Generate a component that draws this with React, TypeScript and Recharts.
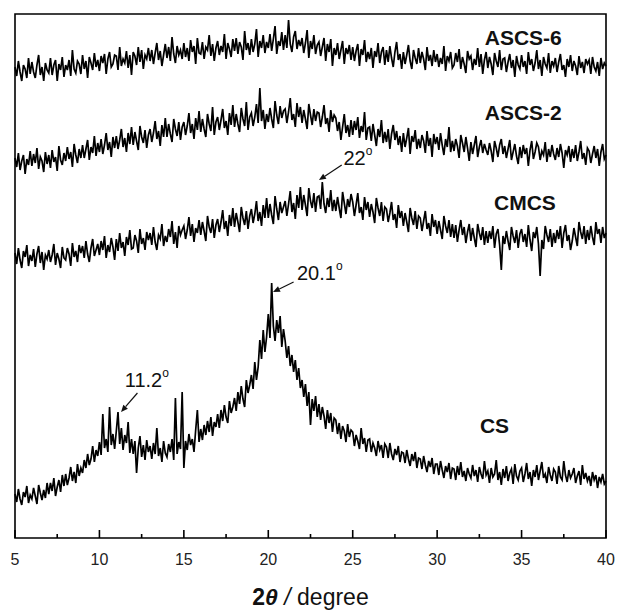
import React from 'react';
import { LineChart, Line, XAxis, YAxis, ReferenceArea, ReferenceDot, ReferenceLine } from 'recharts';

// 2θ positions, 0.1° apart, 5 → 40
const twoTheta: number[] = Array.from({ length: 351 }, (_, i) => +(5 + i * 0.1).toFixed(1));

// intensities (arbitrary units, curves already offset as in the figure), one row per degree
const ascs6 = [
  471, 462, 477, 466, 457, 473, 469, 460, 480, 464,
  476, 466, 460, 473, 483, 463, 471, 457, 475, 468,
  465, 480, 463, 473, 478, 457, 474, 468, 481, 461,
  473, 468, 478, 462, 488, 469, 465, 477, 474, 464,
  483, 469, 477, 460, 481, 475, 468, 485, 471, 478,
  467, 482, 475, 484, 464, 479, 486, 471, 474, 483,
  482, 468, 491, 472, 479, 475, 487, 470, 483, 463,
  486, 482, 473, 491, 476, 488, 469, 483, 479, 490,
  477, 488, 474, 485, 495, 478, 487, 472, 483, 494,
  480, 491, 477, 501, 484, 475, 492, 483, 488, 479,
  495, 481, 490, 477, 498, 486, 492, 474, 500, 485,
  484, 496, 479, 491, 488, 503, 482, 494, 477, 490,
  497, 483, 492, 486, 504, 479, 495, 489, 481, 499,
  487, 500, 484, 496, 491, 478, 507, 488, 495, 483,
  499, 486, 494, 509, 481, 497, 490, 503, 485, 496,
  490, 504, 487, 499, 512, 484, 497, 492, 506, 488,
  503, 490, 518, 494, 486, 501, 507, 489, 498, 492,
  500, 485, 495, 508, 480, 497, 489, 503, 484, 493,
  496, 482, 491, 500, 477, 494, 486, 499, 472, 490,
  483, 495, 479, 488, 497, 474, 490, 484, 493, 478,
  491, 477, 487, 494, 472, 489, 483, 498, 476, 486,
  479, 490, 470, 487, 481, 495, 475, 486, 491, 473,
  488, 476, 492, 480, 471, 486, 496, 478, 484, 469,
  486, 474, 483, 493, 477, 469, 488, 480, 474, 490,
  475, 486, 479, 468, 491, 477, 483, 472, 488, 476,
  484, 471, 480, 474, 492, 467, 482, 477, 486, 470,
  473, 485, 476, 489, 469, 481, 474, 465, 487, 479,
  482, 468, 479, 473, 490, 471, 484, 464, 478, 486,
  470, 481, 474, 463, 485, 477, 471, 488, 468, 479,
  480, 466, 476, 484, 470, 478, 461, 482, 473, 469,
  483, 471, 477, 464, 486, 473, 479, 467, 475, 488,
  469, 478, 462, 481, 474, 470, 485, 465, 477, 472,
  480, 466, 476, 484, 468, 473, 461, 479, 471, 483,
  467, 477, 472, 463, 482, 470, 476, 465, 479, 474,
  478, 464, 481, 471, 467, 476, 462, 480, 469, 475,
  472,
];

const ascs2 = [
  380, 371, 385, 368, 377, 383, 364, 379, 373, 387,
  372, 384, 375, 390, 369, 381, 377, 366, 386, 374,
  383, 370, 388, 376, 381, 367, 392, 378, 373, 385,
  377, 391, 379, 386, 371, 394, 383, 375, 389, 380,
  393, 380, 389, 398, 378, 391, 385, 402, 382, 395,
  386, 399, 384, 393, 405, 388, 396, 381, 401, 390,
  402, 389, 398, 409, 391, 400, 386, 405, 394, 411,
  393, 406, 397, 388, 412, 401, 395, 408, 390, 403,
  409, 396, 405, 417, 399, 407, 392, 413, 401, 420,
  401, 414, 404, 396, 419, 409, 402, 416, 398, 411,
  416, 403, 412, 425, 405, 414, 399, 420, 408, 427,
  406, 419, 409, 401, 424, 414, 407, 431, 403, 416,
  421, 408, 418, 429, 410, 417, 403, 425, 413, 433,
  411, 424, 414, 406, 430, 419, 412, 436, 408, 421,
  425, 412, 421, 434, 415, 450, 417, 428, 409, 424,
  416, 430, 419, 410, 437, 423, 414, 432, 420, 427,
  429, 415, 426, 440, 418, 424, 411, 435, 421, 431,
  415, 428, 419, 409, 434, 423, 413, 429, 417, 426,
  425, 411, 421, 433, 414, 420, 406, 428, 416, 423,
  420, 407, 416, 398, 411, 424, 405, 413, 401, 418,
  403, 417, 408, 421, 400, 412, 406, 426, 398, 410,
  411, 397, 414, 403, 392, 409, 401, 418, 395, 406,
  396, 409, 389, 404, 413, 398, 407, 393, 402, 386,
  405, 391, 400, 410, 384, 402, 396, 408, 389, 399,
  390, 403, 397, 385, 407, 392, 400, 381, 404, 394,
  401, 388, 405, 393, 383, 399, 391, 411, 386, 397,
  387, 399, 392, 380, 403, 395, 386, 401, 390, 377,
  396, 384, 393, 402, 381, 391, 398, 385, 394, 388,
  383, 395, 387, 376, 397, 390, 381, 393, 399, 384,
  392, 380, 389, 398, 378, 386, 394, 382, 374, 391,
  380, 393, 384, 390, 372, 388, 397, 379, 386, 395,
  391, 378, 387, 383, 396, 376, 389, 381, 393, 384,
  378, 390, 381, 394, 385, 370, 388, 383, 392, 376,
  389, 380, 393, 377, 386, 397, 379, 385, 373, 390,
  387, 375, 384, 392, 380, 389, 372, 386, 394, 379,
  383,
];

const cmcs = [
  285, 274, 290, 278, 270, 287, 281, 293, 272, 283,
  277, 289, 271, 284, 292, 275, 286, 268, 283, 279,
  288, 276, 283, 294, 273, 285, 279, 270, 291, 280,
  278, 290, 284, 272, 295, 281, 287, 276, 293, 285,
  292, 280, 297, 284, 276, 290, 299, 282, 288, 294,
  283, 297, 288, 302, 280, 293, 286, 300, 291, 278,
  299, 287, 305, 290, 296, 282, 301, 293, 308, 289,
  290, 303, 297, 285, 309, 294, 300, 288, 306, 298,
  305, 293, 311, 296, 288, 303, 299, 314, 292, 302,
  296, 309, 301, 317, 294, 306, 290, 312, 303, 308,
  312, 299, 308, 321, 302, 314, 296, 310, 305, 318,
  303, 316, 307, 297, 322, 311, 305, 319, 300, 313,
  319, 306, 316, 328, 309, 317, 302, 323, 312, 330,
  311, 325, 316, 306, 331, 320, 313, 327, 309, 322,
  329, 315, 324, 337, 317, 326, 312, 333, 320, 340,
  320, 334, 323, 314, 342, 329, 318, 336, 325, 331,
  337, 322, 334, 347, 326, 335, 319, 343, 330, 351,
  328, 343, 333, 322, 350, 337, 330, 345, 326, 341,
  342, 329, 356, 334, 325, 340, 331, 348, 327, 338,
  327, 341, 330, 320, 346, 335, 324, 339, 331, 344,
  336, 322, 333, 345, 325, 331, 318, 341, 328, 336,
  321, 334, 326, 315, 340, 330, 322, 336, 317, 331,
  329, 316, 325, 336, 318, 324, 310, 333, 320, 327,
  312, 325, 316, 306, 330, 320, 313, 327, 309, 322,
  320, 307, 317, 327, 309, 315, 302, 324, 311, 318,
  304, 317, 308, 299, 322, 312, 305, 318, 301, 314,
  300, 313, 296, 308, 318, 303, 311, 295, 306, 314,
  297, 310, 300, 291, 314, 305, 298, 311, 293, 307,
  295, 307, 299, 312, 290, 304, 309, 293, 268, 302,
  294, 307, 297, 288, 311, 302, 295, 308, 290, 304,
  309, 296, 304, 291, 313, 298, 287, 306, 300, 311,
  294, 262, 298, 289, 312, 303, 296, 309, 291, 305,
  295, 308, 299, 312, 290, 305, 313, 297, 303, 288,
  297, 310, 301, 292, 316, 306, 299, 312, 294, 308,
  298, 312, 301, 293, 316, 304, 309, 295, 311, 300,
  305,
];

const cs = [
  44, 36, 49, 39, 33, 46, 41, 52, 35, 43,
  39, 50, 42, 34, 53, 45, 38, 48, 40, 55,
  44, 55, 47, 60, 42, 51, 58, 46, 63, 52,
  64, 53, 60, 71, 57, 66, 55, 74, 62, 70,
  65, 78, 70, 84, 73, 79, 92, 76, 88, 82,
  96, 83, 124, 90, 99, 86, 131, 93, 104, 89,
  107, 126, 94, 110, 88, 103, 95, 116, 85, 99,
  84, 97, 65, 90, 102, 81, 93, 78, 98, 86,
  92, 79, 95, 84, 110, 82, 90, 76, 97, 85,
  81, 94, 86, 99, 78, 140, 84, 96, 89, 146,
  70, 97, 88, 104, 93, 99, 86, 108, 128, 96,
  109, 98, 113, 103, 117, 106, 121, 102, 116, 111,
  124, 110, 128, 117, 133, 121, 115, 137, 125, 131,
  140, 127, 146, 134, 152, 139, 131, 158, 145, 153,
  163, 149, 176, 158, 171, 198, 179, 208, 186, 201,
  224, 200, 255, 212, 197, 218, 205, 222, 191, 209,
  197, 180, 192, 172, 183, 166, 178, 158, 170, 150,
  158, 141, 154, 132, 146, 113, 139, 127, 142, 121,
  134, 118, 131, 122, 109, 128, 115, 125, 106, 120,
  118, 104, 115, 99, 112, 107, 96, 114, 101, 108,
  106, 92, 103, 97, 89, 110, 94, 100, 86, 98,
  99, 86, 95, 90, 82, 97, 88, 93, 80, 94,
  91, 80, 95, 84, 78, 89, 83, 92, 76, 86,
  85, 75, 88, 79, 72, 84, 77, 86, 70, 80,
  79, 69, 82, 73, 66, 77, 71, 80, 64, 74,
  74, 63, 77, 68, 60, 72, 66, 75, 59, 70,
  69, 58, 72, 63, 76, 61, 67, 57, 70, 64,
  60, 73, 62, 68, 56, 71, 64, 59, 77, 63,
  67, 55, 70, 61, 64, 78, 58, 66, 53, 69,
  60, 72, 57, 65, 69, 54, 74, 62, 58, 67,
  70, 56, 64, 75, 59, 66, 52, 68, 61, 73,
  58, 67, 76, 60, 64, 55, 71, 63, 57, 69,
  66, 54, 72, 61, 58, 77, 63, 56, 68, 60,
  64, 70, 55, 62, 67, 53, 73, 59, 65, 57,
  62, 52, 66, 58, 63, 50, 61, 56, 64, 54,
  57,
];

const xTicks = [5, 7.5, 10, 12.5, 15, 17.5, 20, 22.5, 25, 27.5, 30, 32.5, 35, 37.5, 40];

const seriesNames = ['ASCS-6', 'ASCS-2', 'CMCS', 'CS'];
// label anchor (2θ, intensity) for each curve name
const nameAt = [
  [35.1, 493],
  [35.1, 418],
  [35.2, 328],
  [33.4, 105],
];

// peak annotations: text, text anchor, arrow tail, arrow tip
const peakNotes = [
  { text: '22', at: [24.45, 373], from: [24.35, 373], to: [23.0, 358] },
  { text: '20.1', at: [21.7, 258], from: [21.5, 256], to: [20.28, 246] },
  { text: '11.2', at: [11.5, 151], from: [12.25, 145], to: [11.28, 126] },
];

const data = twoTheta.map((x, i) => ({
  x,
  ascs6: ascs6[i],
  ascs2: ascs2[i],
  cmcs: cmcs[i],
  cs: cs[i],
}));

const FONT = '"Liberation Sans", Arial, Helvetica, sans-serif';
const TRACE = 1.7;

const XTick = (props: any) => {
  const { x, y, payload } = props;
  const v = payload.value;
  const major = v % 5 === 0;
  return (
    <g>
      <line x1={x} x2={x} y1={y} y2={y - (major ? 8 : 4)} stroke="#000" strokeWidth={1.6} />
      {major && (
        <text x={x} y={y + 27} textAnchor="middle" fontSize={16} fontFamily={FONT} fill="#222">
          {v}
        </text>
      )}
    </g>
  );
};

const AxisTitle = (props: any) => {
  const vb = props.viewBox || { x: 15, y: 538, width: 591, height: 72 };
  const cx = vb.x + vb.width / 2;
  return (
    <text x={cx} y={vb.y + 67} textAnchor="middle" fontSize={23} fontFamily={FONT} fill="#111">
      <tspan fontWeight="bold">2</tspan>
      <tspan fontWeight="bold" fontStyle="italic">θ</tspan>
      <tspan fontStyle="italic"> / </tspan>
      <tspan>degree</tspan>
    </text>
  );
};

const Arrow = (props: any) => {
  const { x1, y1, x2, y2 } = props;
  const ang = Math.atan2(y2 - y1, x2 - x1);
  const L = 7;
  const W = 3;
  const bx = x2 - L * Math.cos(ang);
  const by = y2 - L * Math.sin(ang);
  const px = -Math.sin(ang) * W;
  const py = Math.cos(ang) * W;
  return (
    <g>
      <line x1={x1} y1={y1} x2={bx} y2={by} stroke="#111" strokeWidth={1.2} />
      <polygon points={`${x2},${y2} ${bx + px},${by + py} ${bx - px},${by - py}`} fill="#111" />
    </g>
  );
};

export default function App() {
  return (
    <div style={{ position: 'absolute', left: 0, top: 0, background: '#fff' }}>
      <LineChart
        width={618}
        height={610}
        data={data}
        margin={{ top: 14, right: 12, bottom: 0, left: 15 }}
      >
        <XAxis
          dataKey="x"
          type="number"
          domain={[5, 40]}
          ticks={xTicks}
          interval={0}
          tickSize={0}
          tickMargin={0}
          axisLine={false}
          tickLine={false}
          height={72}
          tick={<XTick />}
          label={{ content: <AxisTitle /> }}
        />
        <YAxis hide type="number" domain={[0, 524]} allowDataOverflow />
        <Line dataKey="ascs6" stroke="#000" strokeWidth={TRACE} dot={false} isAnimationActive={false} />
        <Line dataKey="ascs2" stroke="#000" strokeWidth={TRACE} dot={false} isAnimationActive={false} />
        <Line dataKey="cmcs" stroke="#000" strokeWidth={TRACE} dot={false} isAnimationActive={false} />
        <Line dataKey="cs" stroke="#000" strokeWidth={TRACE} dot={false} isAnimationActive={false} />
        <ReferenceArea
          x1={5}
          x2={40}
          y1={0}
          y2={524}
          fill="none"
          fillOpacity={0}
          stroke="#000"
          strokeWidth={1.6}
          ifOverflow="visible"
        />
        {seriesNames.map((name, i) => (
          <ReferenceDot
            key={name}
            x={nameAt[i][0]}
            y={nameAt[i][1]}
            r={0}
            ifOverflow="visible"
            shape={(p: any) => (
              <text
                x={p.cx}
                y={p.cy}
                textAnchor="middle"
                fontSize={21}
                fontWeight="bold"
                fontFamily={FONT}
                fill="#111"
              >
                {name}
              </text>
            )}
          />
        ))}
        {peakNotes.map((n) => (
          <ReferenceLine
            key={'a' + n.text}
            segment={[
              { x: n.from[0], y: n.from[1] },
              { x: n.to[0], y: n.to[1] },
            ]}
            ifOverflow="visible"
            shape={<Arrow />}
          />
        ))}
        {peakNotes.map((n) => (
          <ReferenceDot
            key={'t' + n.text}
            x={n.at[0]}
            y={n.at[1]}
            r={0}
            ifOverflow="visible"
            shape={(p: any) => (
              <text x={p.cx} y={p.cy} fontSize={20} fontFamily={FONT} fill="#111">
                {n.text}
                <tspan fontSize={12} dy={-10}>o</tspan>
              </text>
            )}
          />
        ))}
      </LineChart>
    </div>
  );
}
